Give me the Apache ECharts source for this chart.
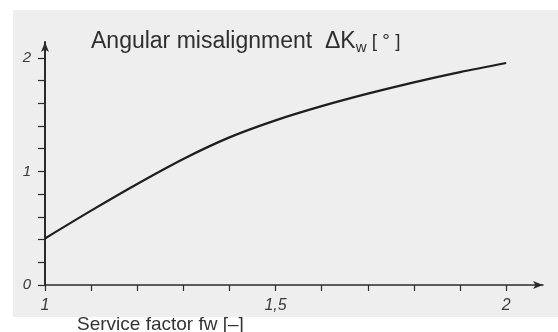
<!DOCTYPE html>
<html>
<head>
<meta charset="utf-8">
<script src="https://cdn.jsdelivr.net/npm/echarts@6/dist/echarts.min.js"></script>
<style>
  html, body { margin: 0; padding: 0; background: #ffffff; }
  #chart { width: 558px; height: 332px; }
</style>
</head>
<body>
<div id="chart"></div>
<script>
// Service factor fw and the resulting angular misalignment ΔKw in degrees
const serviceFactor = [1.0, 1.1, 1.2, 1.3, 1.4, 1.5, 1.6, 1.7, 1.8, 1.9, 2.0];
const misalignment = [0.41, 0.655, 0.89, 1.11, 1.30, 1.45, 1.575, 1.685, 1.785, 1.875, 1.955];

// Labelled ticks and the small tick marks between them
const xTickLabels = [1, 1.5, 2];
const yTickLabels = [0, 1, 2];
const xTickMarks = [1.0, 1.1, 1.2, 1.3, 1.4, 1.5, 1.6, 1.7, 1.8, 1.9, 2.0];
const yTickMarks = [0, 0.2, 0.4, 0.6, 0.8, 1.0, 1.2, 1.4, 1.6, 1.8, 2.0];

const ink = '#2b2b2b';
const sans = 'Liberation Sans, Arial, sans-serif';
const labelFont = {
  fontFamily: sans,
  fontStyle: 'italic',
  color: '#3a3a3a'
};

const chart = echarts.init(document.getElementById('chart'), null, { renderer: 'canvas' });

chart.setOption({
  animation: false,
  backgroundColor: '#ffffff',
  graphic: [
    {
      type: 'rect',
      z: -10,
      shape: { x: 13, y: 10, width: 545, height: 307 },
      style: { fill: '#eeeeee' }
    },
    {
      type: 'text',
      left: 77,
      top: 315,
      style: {
        text: 'Service factor fw [–]',
        fontFamily: sans,
        fontSize: 19,
        fill: '#333333'
      }
    }
  ],
  title: {
    text: 'Angular misalignment  ΔK{sub|w}{br| [ ° ]}',
    left: 91,
    top: 28,
    padding: 0,
    textStyle: {
      fontFamily: sans,
      fontSize: 23,
      fontWeight: 'normal',
      color: '#2e2e2e',
      rich: {
        sub: {
          fontFamily: sans,
          fontSize: 15,
          color: '#2e2e2e',
          padding: [12, 0, 0, 0]
        },
        br: {
          fontFamily: sans,
          fontSize: 19,
          color: '#2e2e2e'
        }
      }
    }
  },
  grid: { left: 45, right: 15, top: 42, bottom: 47, containLabel: false },
  xAxis: {
    type: 'value',
    min: 1,
    max: 2.08,
    splitLine: { show: false },
    axisLine: {
      show: true,
      onZero: false,
      symbol: ['none', 'arrow'],
      symbolSize: [6, 10],
      lineStyle: { color: ink, width: 1.5 }
    },
    axisTick: {
      show: true,
      inside: false,
      length: 6,
      customValues: xTickMarks,
      lineStyle: { color: ink, width: 1.2 }
    },
    axisLabel: {
      customValues: xTickLabels,
      margin: 13,
      fontSize: 16,
      formatter: v => String(v).replace('.', ','),
      ...labelFont
    }
  },
  yAxis: {
    type: 'value',
    min: 0,
    max: 2.14,
    splitLine: { show: false },
    axisLine: {
      show: true,
      onZero: false,
      symbol: ['none', 'arrow'],
      symbolSize: [6, 10],
      lineStyle: { color: ink, width: 2 }
    },
    axisTick: {
      show: true,
      inside: false,
      length: 7,
      customValues: yTickMarks,
      lineStyle: { color: ink, width: 1.2 }
    },
    axisLabel: {
      customValues: yTickLabels,
      margin: 14,
      fontSize: 15,
      ...labelFont
    }
  },
  series: [
    {
      type: 'line',
      data: serviceFactor.map((x, i) => [x, misalignment[i]]),
      smooth: 0.3,
      showSymbol: false,
      lineStyle: { color: '#1e1e1e', width: 2.2 }
    }
  ]
});
</script>
</body>
</html>
